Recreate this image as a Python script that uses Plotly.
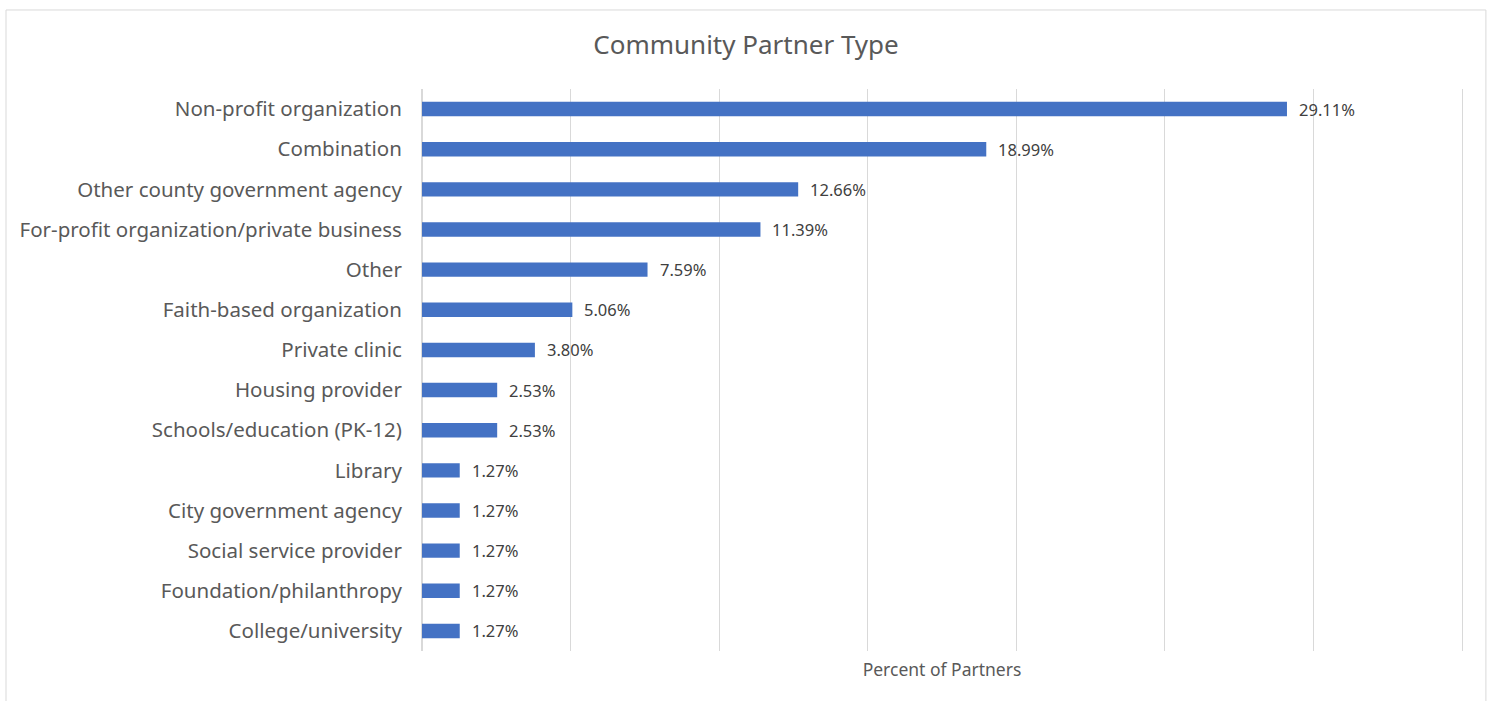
import plotly.graph_objects as go

categories = [
    "Non-profit organization",
    "Combination",
    "Other county government agency",
    "For-profit organization/private business",
    "Other",
    "Faith-based organization",
    "Private clinic",
    "Housing provider",
    "Schools/education (PK-12)",
    "Library",
    "City government agency",
    "Social service provider",
    "Foundation/philanthropy",
    "College/university",
]
percents = [29.11, 18.99, 12.66, 11.39, 7.59, 5.06, 3.80, 2.53, 2.53, 1.27, 1.27, 1.27, 1.27, 1.27]

FONT = "Noto Sans, sans-serif"
TEXT_GRAY = "#595959"
GRID = "#d9d9d9"

fig = go.Figure(
    go.Bar(
        x=percents,
        y=categories,
        orientation="h",
        marker=dict(color="#4472C4", line=dict(width=0)),
        width=0.36,
        hoverinfo="skip",
    )
)

# value labels just to the right of each bar
for cat, val in zip(categories, percents):
    fig.add_annotation(
        x=val, y=cat, text=f"{val:.2f}%", showarrow=False,
        xanchor="left", xshift=10, yshift=0,
        font=dict(family=FONT, size=16.5, color="#404040"),
    )

# outer chart border
fig.add_shape(
    type="rect", xref="paper", yref="paper",
    x0=-0.4, x1=1.023, y0=-0.09, y1=1.1406,
    line=dict(color=GRID, width=1), fillcolor="rgba(0,0,0,0)", layer="below",
)

fig.update_layout(
    width=1492, height=701,
    margin=dict(l=422, r=30, t=89, b=50),
    paper_bgcolor="white", plot_bgcolor="white",
    showlegend=False,
    title=dict(
        text="Community Partner Type", x=0.5, xanchor="center",
        y=1 - 45 / 701, yanchor="middle",
        font=dict(family=FONT, size=26, color=TEXT_GRAY),
    ),
    xaxis=dict(
        range=[0, 35], dtick=5, showticklabels=False, ticks="",
        showgrid=True, gridcolor=GRID, gridwidth=1,
        zeroline=True, zerolinecolor=GRID, zerolinewidth=1,
        showline=False,
        title=dict(text="Percent of Partners", standoff=12,
                   font=dict(family=FONT, size=17.5, color=TEXT_GRAY)),
    ),
    yaxis=dict(
        categoryorder="array", categoryarray=categories[::-1],
        autorange=False, range=[-0.5, len(categories) - 0.5],
        ticks="", showgrid=False, zeroline=False,
        showline=True, mirror=True, linecolor=GRID, linewidth=1,
        ticklabelstandoff=15,
        tickfont=dict(family=FONT, size=20.5, color=TEXT_GRAY),
    ),
)

fig.write_html("out.html")
